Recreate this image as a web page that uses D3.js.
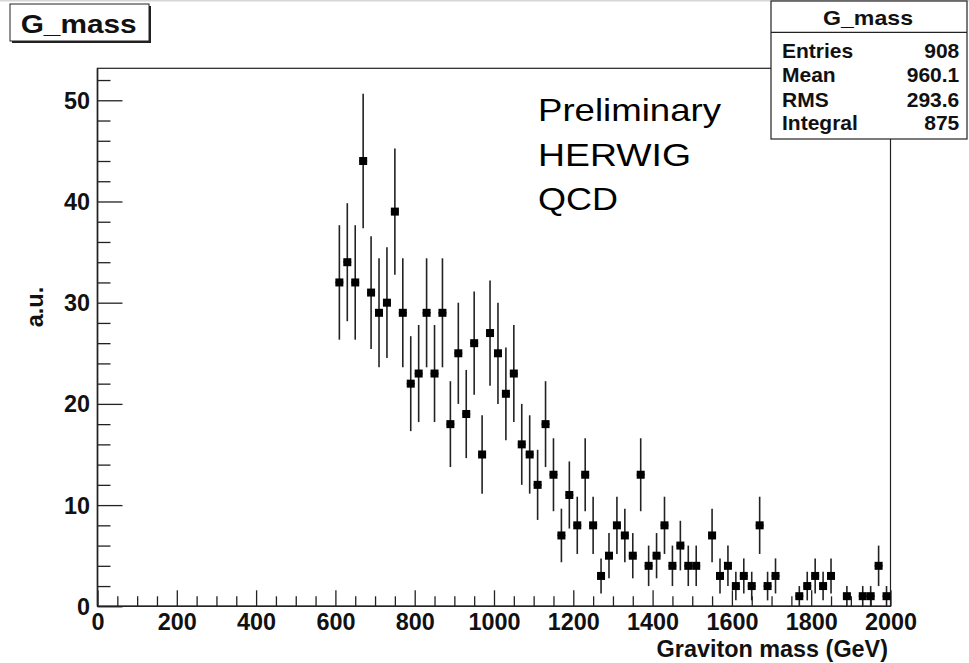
<!DOCTYPE html>
<html>
<head>
<meta charset="utf-8">
<script src="https://cdn.jsdelivr.net/npm/d3@7"></script>
<style>
  html, body { margin: 0; padding: 0; background: #fff; }
  svg { display: block; }
  text { font-family: "Liberation Sans", Arial, Helvetica, sans-serif; }
</style>
</head>
<body>
<svg id="chart" width="969" height="663"></svg>
<script>
// ---- data (bin centres in GeV, bin width 20 GeV) ----
const binCenters = [610,630,650,670,690,710,730,750,770,790,810,830,850,870,890,910,930,950,970,990,
  1010,1030,1050,1070,1090,1110,1130,1150,1170,1190,1210,1230,1250,1270,1290,1310,1330,1350,1370,1390,
  1410,1430,1450,1470,1490,1510,1530,1550,1570,1590,1610,1630,1650,1670,1690,1710,1730,1750,1770,1790,
  1810,1830,1850,1870,1890,1910,1930,1950,1970,1990];
const counts = [32,34,32,44,31,29,30,39,29,22,23,29,23,29,18,25,19,26,15,27,
  25,21,23,16,15,12,18,13,7,11,8,13,8,3,5,8,7,5,13,4,
  5,8,4,6,4,4,0,7,3,4,2,3,2,8,2,3,0,0,1,2,
  3,2,3,0,1,0,1,1,4,1];
const binWidth = 20;
const xMajorTicks = [0,200,400,600,800,1000,1200,1400,1600,1800,2000];
const yMajorTicks = [0,10,20,30,40,50];
const statsLabels = ["Entries","Mean","RMS","Integral"];
const statsValues = ["908","960.1","293.6","875"];
const noteLines = ["Preliminary","HERWIG","QCD"];

const svg = d3.select("#chart");
const L = 97.5, R = 890.5, T = 68.3, B = 606.3;

const x = d3.scaleLinear().domain([0, 2000]).range([L, R]);
const y = d3.scaleLinear().domain([0, 53.16]).range([B, T]);

svg.append("rect").attr("width", 969).attr("height", 663).attr("fill", "#fff");
svg.append("rect").attr("x", 0).attr("y", 0).attr("width", 969).attr("height", 1.5).attr("fill", "#d6d6d6");

// frame
svg.append("rect").attr("x", L).attr("y", T).attr("width", R - L).attr("height", B - T)
  .attr("fill", "none").attr("stroke", "#222").attr("stroke-width", 1.2);

// X axis minor ticks
const xMinor = d3.range(0, 2001, 50).filter(v => v % 200 !== 0);
svg.append("g").attr("transform", `translate(0,${B})`)
  .call(d3.axisBottom(x).tickValues(xMinor).tickSize(-10).tickFormat(""))
  .call(g => g.select(".domain").remove())
  .call(g => g.selectAll("line").attr("stroke", "#222").attr("stroke-width", 1.3));
// X axis major ticks
svg.append("g").attr("transform", `translate(0,${B})`)
  .call(d3.axisBottom(x).tickValues(xMajorTicks).tickSize(-16).tickPadding(7).tickFormat(d3.format("d")))
  .call(g => g.select(".domain").remove())
  .call(g => g.selectAll("line").attr("stroke", "#222").attr("stroke-width", 1.3))
  .call(g => g.selectAll("text").attr("font-size", 23.4).attr("font-weight", "bold")
      .attr("fill", "#111").attr("font-family", "Liberation Sans, Arial, sans-serif"));

// Y axis minor ticks
const yMinor = d3.range(0, 53, 2).filter(v => v % 10 !== 0);
svg.append("g").attr("transform", `translate(${L},0)`)
  .call(d3.axisLeft(y).tickValues(yMinor).tickSize(-13).tickFormat(""))
  .call(g => g.select(".domain").remove())
  .call(g => g.selectAll("line").attr("stroke", "#222").attr("stroke-width", 1.3));
// Y axis major ticks
svg.append("g").attr("transform", `translate(${L},0)`)
  .call(d3.axisLeft(y).tickValues(yMajorTicks).tickSize(-25).tickPadding(7.5).tickFormat(d3.format("d")))
  .call(g => g.select(".domain").remove())
  .call(g => g.selectAll("line").attr("stroke", "#222").attr("stroke-width", 1.3))
  .call(g => g.selectAll("text").attr("font-size", 23.4).attr("font-weight", "bold")
      .attr("fill", "#111").attr("dy", "0.34em").attr("font-family", "Liberation Sans, Arial, sans-serif"));

// axis lines (thicker)
svg.append("line").attr("x1", L).attr("x2", R).attr("y1", B).attr("y2", B).attr("stroke", "#222").attr("stroke-width", 1.6);
svg.append("line").attr("x1", L).attr("x2", L).attr("y1", T).attr("y2", B).attr("stroke", "#222").attr("stroke-width", 1.6);

// axis titles
svg.append("text").attr("x", 888).attr("y", 656.5).attr("text-anchor", "end")
  .attr("font-size", 23.4).attr("font-weight", "bold").attr("fill", "#111")
  .text("Graviton mass (GeV)");
svg.append("text").attr("transform", "translate(43,307) rotate(-90)").attr("text-anchor", "middle")
  .attr("font-size", 23.4).attr("font-weight", "bold").attr("fill", "#111")
  .text("a.u.");

// data
const data = binCenters.map((c, i) => ({ c, v: counts[i] })).filter(d => d.v > 0);
const pts = svg.append("g");
pts.selectAll("line.ev").data(data).join("line").attr("class", "ev")
  .attr("x1", d => x(d.c)).attr("x2", d => x(d.c))
  .attr("y1", d => y(d.v - Math.sqrt(d.v))).attr("y2", d => y(d.v + Math.sqrt(d.v)))
  .attr("stroke", "#222").attr("stroke-width", 1.6);
pts.selectAll("line.eh").data(data).join("line").attr("class", "eh")
  .attr("x1", d => x(d.c - binWidth / 2)).attr("x2", d => x(d.c + binWidth / 2))
  .attr("y1", d => y(d.v)).attr("y2", d => y(d.v))
  .attr("stroke", "#222").attr("stroke-width", 1.6);
pts.selectAll("rect").data(data).join("rect")
  .attr("x", d => x(d.c) - 4).attr("y", d => y(d.v) - 4)
  .attr("width", 8).attr("height", 8).attr("fill", "#000");

// note text
const noteBase = [121, 166, 210];
const noteLen = [183, 153, 80];
svg.selectAll("text.note").data(noteLines).join("text").attr("class", "note")
  .attr("x", 538).attr("y", (d, i) => noteBase[i])
  .attr("font-size", 32).attr("fill", "#000")
  .attr("textLength", (d, i) => noteLen[i]).attr("lengthAdjust", "spacingAndGlyphs")
  .text(d => d);

// title box
svg.append("rect").attr("x", 12).attr("y", 6).attr("width", 139).attr("height", 37).attr("fill", "#222");
svg.append("rect").attr("x", 10).attr("y", 4).attr("width", 139).attr("height", 37)
  .attr("fill", "#fff").attr("stroke", "#222").attr("stroke-width", 1);
svg.append("text").attr("x", 20.7).attr("y", 33).attr("font-size", 25).attr("font-weight", "bold")
  .attr("fill", "#111").attr("textLength", 116).attr("lengthAdjust", "spacingAndGlyphs").text("G_mass");

// stats box
const sb = { x: 771, y: 1, w: 196, h: 138 };
svg.append("rect").attr("x", sb.x).attr("y", sb.y).attr("width", sb.w).attr("height", sb.h)
  .attr("fill", "#fff").attr("stroke", "#222").attr("stroke-width", 1.2);
svg.append("line").attr("x1", sb.x).attr("x2", sb.x + sb.w).attr("y1", 32.3).attr("y2", 32.3)
  .attr("stroke", "#222").attr("stroke-width", 1.2);
svg.append("text").attr("x", 868).attr("y", 25).attr("text-anchor", "middle")
  .attr("font-size", 21).attr("font-weight", "bold").attr("fill", "#111")
  .attr("textLength", 90).attr("lengthAdjust", "spacingAndGlyphs").text("G_mass");
const rowBase = [57.5, 82, 106.5, 130];
svg.selectAll("text.sl").data(statsLabels).join("text").attr("class", "sl")
  .attr("x", 782).attr("y", (d, i) => rowBase[i])
  .attr("font-size", 21).attr("font-weight", "bold").attr("fill", "#111").text(d => d);
svg.selectAll("text.sv").data(statsValues).join("text").attr("class", "sv")
  .attr("x", 959.3).attr("y", (d, i) => rowBase[i]).attr("text-anchor", "end")
  .attr("font-size", 21).attr("font-weight", "bold").attr("fill", "#111").text(d => d);
</script>
</body>
</html>
